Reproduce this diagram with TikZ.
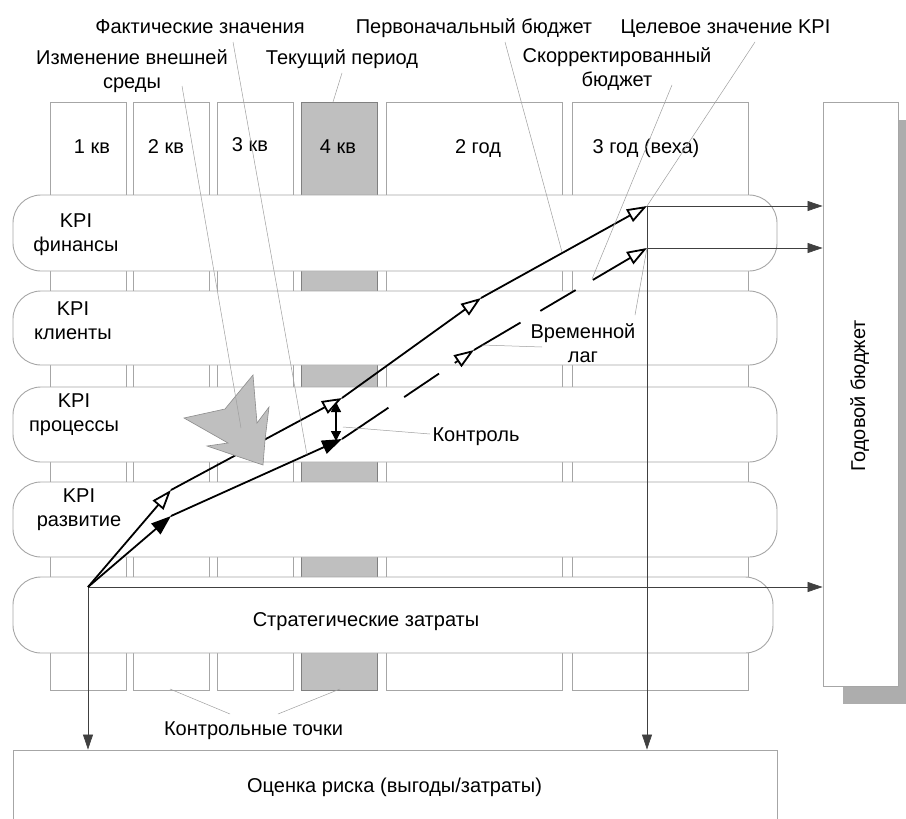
\documentclass[tikz,border=0pt]{standalone}
\usepackage{fontspec}
\setmainfont{Liberation Sans}
\usetikzlibrary{arrows.meta,shadows}

\begin{document}
\begin{tikzpicture}[x=1pt,y=-1pt,
  col/.style={draw=gray!70,line width=0.9pt,fill=white,inner sep=0pt,minimum height=588pt},
  band/.style={draw=gray!70,line width=0.9pt,fill=white,rounded corners=28pt,inner sep=0pt,minimum width=764pt},
  lead/.style={gray!75,line width=0.5pt},
  flow/.style={black!75,line width=0.7pt,-{Triangle[length=15pt,width=10pt]}},
  plan/.style={line width=1.8pt,-{Triangle[open,length=20pt,width=14pt,fill=white]}},
  fact/.style={line width=1.8pt,-{Triangle[length=20pt,width=14pt]}},
  txt/.style={font=\fontsize{20}{24}\selectfont,align=center,inner sep=0pt}]
\clip (0,0) rectangle (906,819);
% periods
\node[col,minimum width=76pt](q1) at (88,396){};
\node[col,minimum width=76pt](q2) at (171,396){};
\node[col,minimum width=76pt](q3) at (255,396){};
\node[col,minimum width=76pt,fill=black!25,draw=gray](q4) at (339,396){};
\node[col,minimum width=176pt](y2) at (474,396){};
\node[col,minimum width=176pt](y3) at (660,396){};
\node[txt,anchor=base] at (92,153){1 кв};
\node[txt,anchor=base] at (166,153){2 кв};
\node[txt,anchor=base] at (250,151){3 кв};
\node[txt,anchor=base] at (338,153){4 кв};
\node[txt,anchor=base] at (478,153){2 год};
\node[txt,anchor=base] at (646,153){3 год (веха)};
% KPI bands
\node[band,minimum height=76pt](fin) at (395,233){};
\node[band,minimum height=74pt](cli) at (395,328){};
\node[band,minimum height=75pt](proc) at (395,424.5){};
\node[band,minimum height=75pt](dev) at (395,519.5){};
\node[band,minimum height=76pt,minimum width=760pt](cost) at (393,615){};
\node[txt] at (76,235){KPI\\финансы};
\node[txt] at (73,321){KPI\\клиенты};
\node[txt] at (74,415){KPI\\процессы};
\node[txt] at (79,510){KPI\\развитие};
\node[txt,anchor=base] at (366,626){Стратегические затраты};
% budget and risk
\node[draw=gray!70,line width=0.9pt,fill=white,minimum width=75pt,minimum height=584pt,
  drop shadow={shadow xshift=20pt,shadow yshift=-18pt,fill=black!32,opacity=1}](budget) at (860.5,394){};
\node[txt,anchor=base,rotate=90] at (865,396){Годовой бюджет};
\node[draw=gray!70,line width=0.9pt,fill=white,minimum width=764pt,minimum height=80pt](risk) at (395,790){};
\node[txt,anchor=base] at (394.5,792){Оценка риска (выгоды/затраты)};
% trajectories
\coordinate (start) at (88,587);
\coordinate (a1) at (171,490);
\coordinate (a2) at (342,398);
\coordinate (a3) at (481,298);
\coordinate (a4) at (647,206);
\coordinate (b1) at (171,516);
\coordinate (b2) at (342,439);
\coordinate (b3) at (474,350);
\coordinate (b4) at (647,248);
\draw[flow] (start) -- (start |- risk.north);
\draw[flow] (a4) -- (a4 |- risk.north);
\draw[flow] (a4) -- (a4 -| budget.west);
\draw[flow] (b4) -- (b4 -| budget.west);
\draw[flow] (start) -- (start -| budget.west);
\draw[plan] (start) -- (a1);
\draw[plan] (a1) -- (a2);
\draw[plan] (a2) -- (a3);
\draw[plan] (a3) -- (a4);
\draw[fact] (start) -- (b1);
\draw[fact] (b1) -- (b2);
\draw[plan,dash pattern=on 56pt off 19pt on 42pt off 19pt on 40pt] (b2) -- (b3);
\draw[plan,dash pattern=on 54pt off 23pt on 41pt off 20pt on 80pt] (b3) -- (b4);
\draw[line width=1.4pt,{Triangle[length=10pt,width=10pt]}-{Triangle[length=10pt,width=10pt]}] (336,402) -- (336,441);
% external change
\draw[draw=gray!90,fill=black!25,line width=0.6pt] (184,418) -- (225,409) -- (253,375) -- (257,423) -- (269,407)
  -- (265,440) -- (263,465) -- (207,446) -- (228,443) -- cycle;
% labels
\node[txt,anchor=base](lFact) at (200,33){Фактические значения};
\node[txt,anchor=base](lInit) at (474,33){Первоначальный бюджет};
\node[txt,anchor=base](lGoal) at (725.5,33){Целевое значение KPI};
\node[txt,anchor=base](lCur) at (342,64){Текущий период};
\node[txt](lEnv) at (132,71){Изменение внешней\\среды};
\node[txt](lCorr) at (617,69){Скорректированный\\бюджет};
\node[txt](lLag) at (583,343){Временной\\лаг};
\node[txt,anchor=base](lCtrl) at (476,441){Контроль};
\node[txt,anchor=base](lCp) at (253.5,735){Контрольные точки};
\draw[lead] (233,42) -- (307,455);
\draw[lead] (182,86) -- (241,428);
\draw[lead] (342,73) -- (333,102);
\draw[lead] (505,42) -- (562,252);
\draw[lead] (755,42) -- (a4);
\draw[lead] (672,85) -- (592,279);
\draw[lead] (635,315) -- (b4);
\draw[lead] (542,347) -- (482,345);
\draw[lead] (430,434) -- (343,427);
\draw[lead] (230,714) -- (170,689);
\draw[lead] (278,714) -- (340,689);
\end{tikzpicture}
\end{document}
